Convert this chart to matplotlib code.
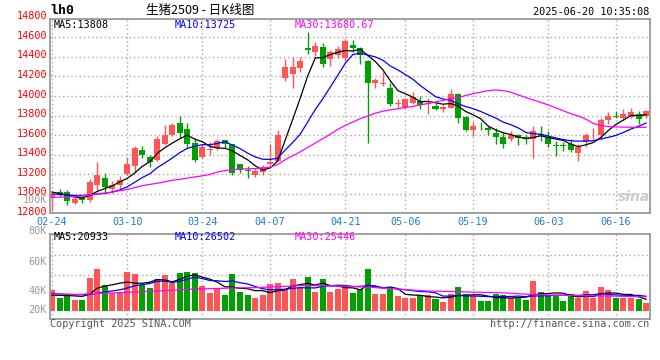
import numpy as np
from matplotlib import pyplot as plt
from matplotlib.transforms import offset_copy

plt.rcParams['font.family'] = ['DejaVu Sans Mono', 'Noto Sans CJK SC']
plt.rcParams['axes.unicode_minus'] = False

W, H = 660, 360

# trading days shown (MM-DD)
dates = ['02-24', '02-25', '02-26', '02-27', '02-28',
         '03-03', '03-04', '03-05', '03-06', '03-07', '03-10', '03-11', '03-12', '03-13', '03-14',
         '03-17', '03-18', '03-19', '03-20', '03-21', '03-24', '03-25', '03-26', '03-27', '03-28',
         '03-31', '04-01', '04-02', '04-03', '04-07', '04-08', '04-09', '04-10', '04-11',
         '04-14', '04-15', '04-16', '04-17', '04-18', '04-21', '04-22', '04-23', '04-24', '04-25',
         '04-28', '04-29', '04-30', '05-06', '05-07', '05-08', '05-09', '05-12', '05-13', '05-14',
         '05-15', '05-16', '05-19', '05-20', '05-21', '05-22', '05-23', '05-26', '05-27', '05-28',
         '05-29', '05-30', '06-03', '06-04', '06-05', '06-06', '06-09', '06-10', '06-11', '06-12',
         '06-13', '06-16', '06-17', '06-18', '06-19', '06-20']

open_ = [12955, 13020, 13020, 12910, 12955, 12938, 13095, 13164, 13047, 13095,
         13205, 13290, 13451, 13376, 13352, 13506, 13601, 13728, 13666, 13523,
         13379, 13447, 13465, 13553, 13506, 13307, 13246, 13198, 13225, 13307,
         13341, 14183, 14224, 14285, 14487, 14446, 14504, 14378, 14419, 14388,
         14525, 14487, 14354, 14131, 14121, 14080, 13916, 13882, 13933, 13950,
         13923, 13899, 13865, 13882, 14025, 13786, 13649, 13697, 13677, 13625,
         13581, 13557, 13601, 13581, 13557, 13615, 13581, 13502, 13499, 13506,
         13420, 13533, 13598, 13601, 13752, 13800, 13772, 13786, 13820, 13796]
high = [13010, 13050, 13040, 12993, 12979, 13153, 13328, 13215, 13129, 13181,
        13376, 13489, 13495, 13403, 13591, 13704, 13728, 13793, 13728, 13567,
        13506, 13533, 13557, 13553, 13512, 13307, 13283, 13266, 13300, 13506,
        13656, 14378, 14402, 14395, 14651, 14549, 14538, 14470, 14515, 14583,
        14573, 14497, 14367, 14183, 14241, 14138, 13971, 13984, 14046, 14000,
        13984, 13933, 13909, 14070, 14030, 13796, 13738, 13738, 13694, 13677,
        13625, 13642, 13615, 13601, 13694, 13694, 13642, 13540, 13533, 13560,
        13512, 13625, 13677, 13779, 13841, 13848, 13865, 13882, 13848, 13858]
low = [12829, 12976, 12890, 12897, 12905, 12921, 13044, 13020, 13010, 13054,
       13198, 13225, 13369, 13280, 13341, 13499, 13591, 13574, 13471, 13328,
       13369, 13396, 13454, 13471, 13198, 13215, 13164, 13170, 13198, 13300,
       13335, 14155, 14080, 14241, 14429, 14402, 14292, 14309, 14388, 14361,
       14446, 14326, 13523, 14087, 14104, 13899, 13875, 13865, 13923, 13865,
       13813, 13855, 13841, 13875, 13728, 13642, 13588, 13656, 13601, 13512,
       13471, 13540, 13499, 13506, 13369, 13540, 13485, 13386, 13444, 13424,
       13341, 13478, 13557, 13553, 13711, 13779, 13752, 13772, 13711, 13779]
close = [12993, 12993, 12924, 12948, 12938, 13122, 13198, 13068, 13088, 13140,
         13307, 13471, 13403, 13328, 13564, 13601, 13704, 13625, 13512, 13352,
         13478, 13461, 13540, 13506, 13215, 13249, 13239, 13239, 13273, 13328,
         13601, 14299, 14299, 14354, 14473, 14515, 14326, 14446, 14477, 14559,
         14491, 14419, 14131, 14162, 14138, 13923, 13926, 13967, 13991, 13909,
         13930, 13865, 13892, 14025, 13779, 13656, 13694, 13690, 13649, 13581,
         13512, 13601, 13567, 13564, 13642, 13601, 13506, 13492, 13492, 13454,
         13478, 13601, 13605, 13759, 13800, 13789, 13820, 13841, 13762, 13848]

ma5 = [13020, 13005, 12990, 12970, 12959, 12985, 13026, 13055, 13083, 13123,
       13160, 13215, 13282, 13330, 13415, 13473, 13520, 13564, 13601, 13559,
       13534, 13486, 13469, 13467, 13440, 13394, 13350, 13290, 13243, 13266,
       13336, 13548, 13760, 13976, 14205, 14388, 14393, 14423, 14447, 14465,
       14460, 14478, 14415, 14352, 14268, 14155, 14056, 14023, 13989, 13943,
       13945, 13932, 13917, 13924, 13898, 13843, 13809, 13769, 13694, 13654,
       13625, 13607, 13582, 13565, 13577, 13595, 13576, 13561, 13547, 13509,
       13484, 13503, 13526, 13579, 13649, 13711, 13755, 13802, 13802, 13808]
ma10 = [13000, 12995, 12990, 12985, 12985, 12990, 13000, 13005, 13020, 13041,
        13073, 13120, 13168, 13206, 13269, 13317, 13367, 13423, 13466, 13487,
        13504, 13503, 13517, 13534, 13499, 13464, 13418, 13379, 13355, 13353,
        13365, 13449, 13525, 13610, 13735, 13862, 13971, 14091, 14212, 14335,
        14424, 14436, 14419, 14400, 14366, 14307, 14267, 14219, 14171, 14106,
        14050, 13994, 13970, 13957, 13921, 13894, 13871, 13843, 13809, 13776,
        13734, 13708, 13675, 13629, 13616, 13610, 13591, 13572, 13556, 13543,
        13540, 13540, 13544, 13563, 13579, 13598, 13629, 13664, 13691, 13725]
ma30 = [12966, 12968, 12970, 12974, 12980, 12990, 13003, 13010, 13018, 13035,
        13045, 13065, 13085, 13098, 13110, 13125, 13140, 13150, 13162, 13175,
        13185, 13200, 13225, 13238, 13250, 13254, 13257, 13260, 13264, 13275,
        13300, 13350, 13390, 13430, 13475, 13520, 13565, 13610, 13660, 13700,
        13735, 13770, 13796, 13825, 13845, 13860, 13870, 13885, 13895, 13910,
        13923, 13940, 13955, 13975, 13985, 14005, 14025, 14040, 14055, 14063,
        14055, 14040, 14012, 13985, 13960, 13935, 13909, 13880, 13850, 13820,
        13796, 13765, 13720, 13700, 13688, 13685, 13683, 13682, 13680, 13681]

volume = [38400, 24000, 28200, 20400, 19800, 60000, 76200, 47400, 32400, 34200,
          70200, 66600, 46200, 42000, 58200, 65400, 51000, 69000, 70200, 69000,
          45600, 32400, 41400, 29400, 66600, 34200, 29400, 23400, 29400, 49200,
          50400, 39000, 57600, 41400, 61200, 34200, 57600, 34200, 39000, 45000,
          32400, 40200, 75000, 30000, 30000, 40200, 26400, 23400, 23400, 28200,
          28200, 22200, 16200, 30000, 42600, 30000, 26400, 17400, 17400, 30000,
          28200, 23400, 23400, 19200, 53400, 33600, 28200, 28200, 17400, 30000,
          23400, 35400, 23400, 42600, 37200, 22800, 23400, 22800, 21600, 14400]
vma5 = [28200, 28200, 27800, 27200, 26160, 30480, 40920, 44760, 47160, 50040,
        52080, 50160, 49920, 51840, 56640, 55680, 52560, 57120, 62760, 64920,
        60960, 57240, 51720, 43560, 43080, 40800, 40200, 36600, 36600, 33120,
        36360, 38280, 45120, 47520, 49920, 46680, 50400, 45720, 45240, 42000,
        41640, 38160, 46320, 44520, 41520, 43080, 40320, 30000, 28680, 28320,
        25920, 25080, 23640, 24960, 27840, 28200, 29040, 29280, 26760, 24240,
        23880, 23280, 24480, 24840, 29520, 30600, 31560, 32520, 32160, 27480,
        25440, 26880, 25920, 30960, 32400, 32280, 29880, 29760, 25560, 20933]
vma10 = [31200, 30600, 30000, 29400, 29400, 30000, 31800, 34200, 36000, 38100,
         41280, 45540, 47340, 49500, 53340, 53880, 51360, 53520, 57300, 60780,
         58320, 54900, 54420, 53160, 54000, 50880, 48720, 44160, 40080, 38100,
         38580, 39240, 40860, 42060, 41520, 41520, 44340, 45420, 46380, 45960,
         44160, 44280, 46020, 44880, 41760, 42360, 39240, 38160, 36600, 34920,
         34500, 32700, 26820, 26820, 28080, 27060, 27060, 26460, 25860, 26040,
         26040, 26160, 26880, 25800, 26880, 27240, 27420, 28500, 28500, 28500,
         28020, 29220, 29220, 31560, 29940, 28860, 28380, 27740, 28160, 26502]
vma30 = [30000, 30000, 30000, 30000, 30000, 31200, 31600, 32000, 32400, 33000,
         33600, 34200, 34800, 35400, 36000, 36600, 37400, 38200, 39000, 39400,
         39800, 40200, 40600, 41000, 41400, 41600, 41800, 42000, 42600, 43200,
         43800, 44400, 45000, 45600, 45800, 45600, 45500, 45200, 44800, 44400,
         43800, 43400, 42800, 42000, 41200, 40500, 39600, 38600, 37600, 36800,
         36000, 35700, 35400, 35100, 34900, 34400, 34000, 33600, 33300, 33000,
         32600, 32000, 31200, 30400, 29800, 29300, 28800, 28300, 28100, 27900,
         27700, 27500, 27300, 27100, 26900, 26700, 26400, 26100, 25800, 25446]

tick_dates = ['02-24', '03-10', '03-24', '04-07', '04-21', '05-06', '05-19', '06-03', '06-16']
price_ticks = [12800, 13000, 13200, 13400, 13600, 13800, 14000, 14200, 14400, 14600, 14800]
vol_labels = ['100K', '80K', '60K', '40K', '20K']
vol_label_y = [200, 231, 261.7, 290.7, 310]

RED = '#ff5555'
GREEN = '#00a000'
GRID = '#a8a8a8'
BORDER = '#999999'
DATE_C = '#1a7fd0'


def box(left, top, right, bottom):
    return [left / W, 1 - bottom / H, (right - left) / W, (bottom - top) / H]


def px(x, y):
    return x / W, 1 - y / H


fig = plt.figure(figsize=(W / 100, H / 100), dpi=100)
ax = fig.add_axes(box(50, 19, 649.5, 212.7))
axv = fig.add_axes(box(50, 234.3, 649.5, 318.7))

x = np.arange(len(dates))
o, hi, lo, c = map(np.array, (open_, high, low, close))
cols = np.where(c >= o, RED, GREEN)
xpos = [dates.index(d) for d in tick_dates]

for a in (ax, axv):
    a.set_xlim(-0.27, 79.46)
    a.set_xticks([])
    a.set_yticks([])
    for s in a.spines.values():
        s.set_color(BORDER)
        s.set_linewidth(1.3)
    for t in xpos:
        a.axvline(t, color=GRID, lw=1, ls=(0, (1, 2)), zorder=0)

ax.set_ylim(12809, 14787)
for p in price_ticks[1:-1]:
    ax.axhline(p, color=GRID, lw=1, ls=(0, (1, 2)), zorder=0)

# candles
ax.vlines(x, lo, hi, colors=cols, lw=1, zorder=2)
body = np.maximum(np.abs(c - o), 9)
ax.bar(x, body, bottom=np.minimum(o, c), width=0.8, color=cols, lw=0, zorder=3)

ax.plot(x, ma5, color='black', lw=0.9, zorder=4)
ax.plot(x, ma10, color='#0000ff', lw=0.9, zorder=4)
ax.plot(x, ma30, color='#ff00ff', lw=0.9, zorder=4)

ytr = offset_copy(ax.get_yaxis_transform(), fig=fig, x=-3, y=1.5, units='dots')
for p in price_ticks:
    ax.text(0, p, str(p), transform=ytr, ha='right', va='center', color='red',
            fontsize=7.3, clip_on=False)

xtr = offset_copy(ax.get_xaxis_transform(), fig=fig, x=0, y=-9, units='dots')
for t, d in zip(xpos, tick_dates):
    ax.text(t, 0, d, transform=xtr, ha='center', va='center', color=DATE_C,
            fontsize=7.3, clip_on=False)

# volume panel
axv.set_ylim(-13860, 138060)
for g in (64000, 100000):
    axv.axhline(g, color=GRID, lw=1, ls=(0, (1, 2)), zorder=0)
axv.bar(x, volume, width=0.8, color=cols, lw=0, zorder=2)
axv.plot(x, vma5, color='black', lw=0.9, zorder=3)
axv.plot(x, vma10, color='#0000ff', lw=0.9, zorder=3)
axv.plot(x, vma30, color='#ff00ff', lw=0.9, zorder=3)

for lab, yy in zip(vol_labels, vol_label_y):
    fig.text(*px(47, yy), lab, ha='right', va='center', color='#999999', fontsize=7.3)

# header texts
fig.text(*px(50, 11), 'lh0', ha='left', va='center', fontsize=9.5, fontweight='bold')
fig.text(*px(200, 10.5), '生猪2509 - 日K线图', ha='center', va='center', fontsize=9,
         family=['Noto Sans CJK SC', 'DejaVu Sans'])
fig.text(*px(649, 12), '2025-06-20 10:35:08', ha='right', va='center', fontsize=7.3)

fig.text(*px(54, 24.5), 'MA5:%d' % ma5[-1], ha='left', va='center', fontsize=7.3, color='black')
fig.text(*px(175, 24.5), 'MA10:%d' % ma10[-1], ha='left', va='center', fontsize=7.3, color='#0000ff')
fig.text(*px(295, 24.5), 'MA30:13680.67', ha='left', va='center', fontsize=7.3, color='#ff00ff')

fig.text(*px(54, 237.5), 'MA5:%d' % vma5[-1], ha='left', va='center', fontsize=7.3, color='black')
fig.text(*px(175, 237.5), 'MA10:%d' % vma10[-1], ha='left', va='center', fontsize=7.3,
         color='#0000ff')
fig.text(*px(295, 237.5), 'MA30:%d' % vma30[-1], ha='left', va='center', fontsize=7.3,
         color='#ff00ff')

fig.text(*px(50, 324), 'Copyright 2025 SINA.COM', ha='left', va='center', fontsize=7.3, color='#555555')
fig.text(*px(649, 324), 'http://finance.sina.com.cn', ha='right', va='center', fontsize=7.3,
         color='#555555')
fig.text(*px(634, 197), 'sina', ha='center', va='center', fontsize=10, color='#cccccc',
         style='italic', fontweight='bold', family='DejaVu Sans')

fig.savefig('out.png', dpi=100)
